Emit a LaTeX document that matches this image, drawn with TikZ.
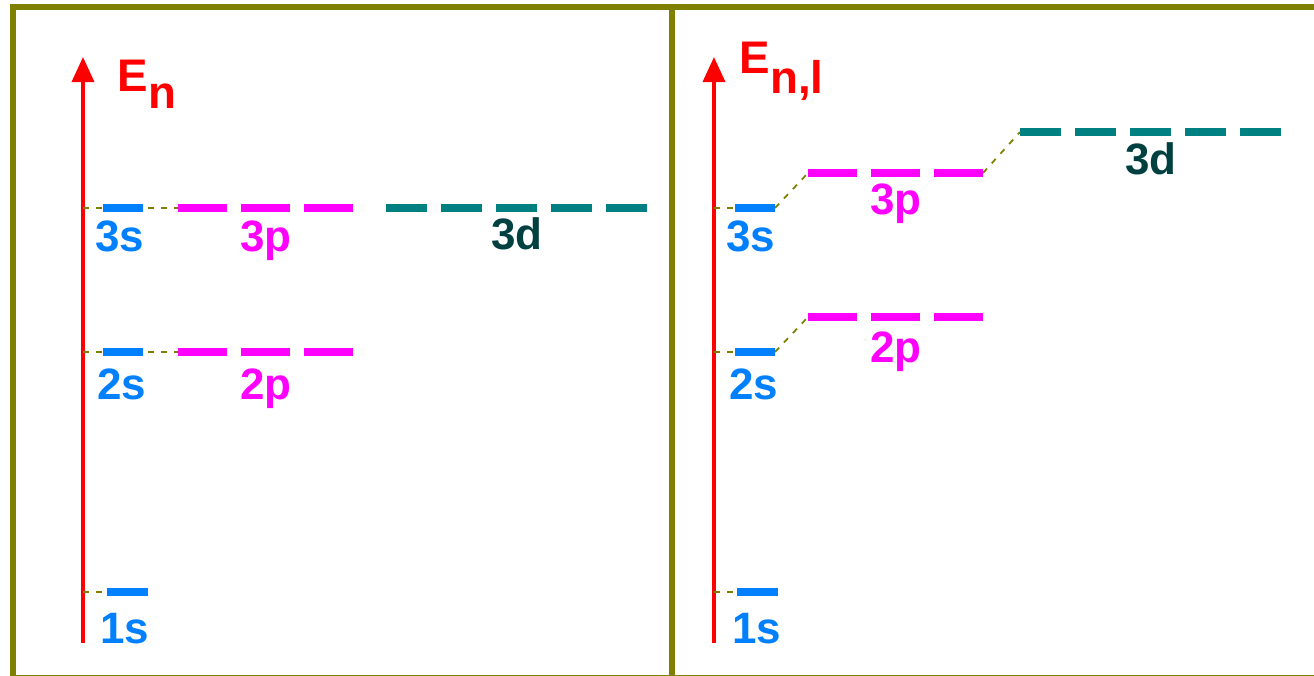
\documentclass[tikz,border=0pt]{standalone}
\usepackage{fontspec}
\setmainfont{Liberation Sans}
\definecolor{lvlblue}{RGB}{0,128,255}
\definecolor{lvlmagenta}{RGB}{255,0,255}
\definecolor{lvlteal}{RGB}{0,128,128}
\definecolor{lvldark}{RGB}{0,64,64}
\definecolor{frameolive}{RGB}{128,128,0}
\usetikzlibrary{arrows.meta}

\begin{document}
\begin{tikzpicture}[x=0.01cm, y=-0.01cm,
    frame/.style={draw=frameolive, line width=1.7pt},
    bar/.style={line width=2pt},
    sbar/.style={bar, draw=lvlblue},
    pbar/.style={bar, draw=lvlmagenta, dash pattern=on 4.9mm off 1.4mm},
    dbar/.style={bar, draw=lvlteal, dash pattern=on 4.1mm off 1.4mm},
    guide/.style={draw=frameolive, line width=0.5pt, dash pattern=on 0.6mm off 0.7mm},
    eaxis/.style={draw=red, line width=1pt, -{Triangle[length=2.5mm,width=2.2mm]}},
    ename/.style={anchor=base west, inner sep=0pt, text=red, font=\fontsize{13}{15}\selectfont\bfseries},
    lbl/.style={anchor=base, inner sep=0pt, font=\fontsize{12.5}{14}\selectfont\bfseries}
  ]
    \useasboundingbox (0,0) rectangle (1314,676);
    \clip (0,0) rectangle (1314,676);
    % Frame
    \draw[frame] (13,7) rectangle (1330,678);
    \draw[frame] (672,7) -- (672,678);

    % Left panel: E_n
    \coordinate (axL-bot) at (83,643);
    \coordinate (axL-top) at (83,57);
    \draw[eaxis] (axL-bot) -- (axL-top);
    \node[ename] (EL) at (117,92) {E\raisebox{-0.16cm}{n}};
    \coordinate (tL3) at (83,208);
    \coordinate (tL2) at (83,352);
    \coordinate (tL1) at (83,592);
    \coordinate (s3L-w) at (103,208);  \coordinate (s3L-e) at (143,208);
    \coordinate (p3L-w) at (178,208);  \coordinate (p3L-e) at (353,208);
    \coordinate (d3L-w) at (386,208);  \coordinate (d3L-e) at (648,208);
    \coordinate (s2L-w) at (103,352);  \coordinate (s2L-e) at (143,352);
    \coordinate (p2L-w) at (178,352);  \coordinate (p2L-e) at (353,352);
    \coordinate (s1L-w) at (107,592);  \coordinate (s1L-e) at (148,592);
    \draw[guide] (tL3) -- (p3L-w);
    \draw[guide] (tL2) -- (p2L-w);
    \draw[guide] (tL1) -- (s1L-w);
    \draw[sbar] (s3L-w) -- (s3L-e);
    \draw[pbar] (p3L-w) -- (p3L-e);
    \draw[dbar] (d3L-w) -- (d3L-e);
    \draw[sbar] (s2L-w) -- (s2L-e);
    \draw[pbar] (p2L-w) -- (p2L-e);
    \draw[sbar] (s1L-w) -- (s1L-e);
    \node[lbl, text=lvlblue] (n3sL) at (120,252) {3s};
    \node[lbl, text=lvlmagenta] (n3pL) at (266,252) {3p};
    \node[lbl, text=lvldark] (n3dL) at (517,250) {3d};
    \node[lbl, text=lvlblue] (n2sL) at (122,400) {2s};
    \node[lbl, text=lvlmagenta] (n2pL) at (266,400) {2p};
    \node[lbl, text=lvlblue] (n1sL) at (125,643) {1s};

    % Right panel: E_{n,l}
    \coordinate (axR-bot) at (714,643);
    \coordinate (axR-top) at (714,57);
    \draw[eaxis] (axR-bot) -- (axR-top);
    \node[ename] (ER) at (739,74) {E\raisebox{-0.19cm}{n,l}};
    \coordinate (tR3) at (714,208);
    \coordinate (tR2) at (714,352);
    \coordinate (tR1) at (714,592);
    \coordinate (s3R-w) at (735,208);  \coordinate (s3R-e) at (775,208);
    \coordinate (p3R-w) at (808,173);  \coordinate (p3R-e) at (983,173);
    \coordinate (d3R-w) at (1020,132); \coordinate (d3R-e) at (1282,132);
    \coordinate (s2R-w) at (735,352);  \coordinate (s2R-e) at (775,352);
    \coordinate (p2R-w) at (808,317);  \coordinate (p2R-e) at (983,317);
    \coordinate (s1R-w) at (737,592);  \coordinate (s1R-e) at (778,592);
    \draw[guide] (tR3) -- (s3R-w);
    \draw[guide] (s3R-e) -- (p3R-w);
    \draw[guide] (p3R-e) -- (d3R-w);
    \draw[guide] (tR2) -- (s2R-w);
    \draw[guide] (s2R-e) -- (p2R-w);
    \draw[guide] (tR1) -- (s1R-w);
    \draw[sbar] (s3R-w) -- (s3R-e);
    \draw[pbar] (p3R-w) -- (p3R-e);
    \draw[dbar] (d3R-w) -- (d3R-e);
    \draw[sbar] (s2R-w) -- (s2R-e);
    \draw[pbar] (p2R-w) -- (p2R-e);
    \draw[sbar] (s1R-w) -- (s1R-e);
    \node[lbl, text=lvlblue] (n3sR) at (751,252) {3s};
    \node[lbl, text=lvlmagenta] (n3pR) at (896,215) {3p};
    \node[lbl, text=lvldark] (n3dR) at (1151,175) {3d};
    \node[lbl, text=lvlblue] (n2sR) at (754,400) {2s};
    \node[lbl, text=lvlmagenta] (n2pR) at (896,363) {2p};
    \node[lbl, text=lvlblue] (n1sR) at (757,643) {1s};
\end{tikzpicture}
\end{document}
